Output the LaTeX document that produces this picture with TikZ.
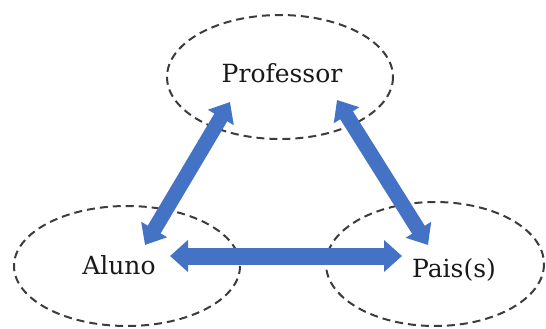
\documentclass[tikz,border=0pt]{standalone}
\usepackage{fontspec}
\setmainfont{DejaVu Serif}
\usetikzlibrary{arrows.meta}
\definecolor{linkblue}{RGB}{68,114,196}
\definecolor{rimgray}{RGB}{60,60,60}
\begin{document}
\begin{tikzpicture}[x=1pt,y=-1pt,
  party/.style={draw=rimgray,dash pattern=on 8pt off 5pt,line width=2pt},
  label/.style={font=\fontsize{25}{28}\selectfont,text=black!90,anchor=base,inner sep=0pt},
  link/.style={draw=linkblue,line width=17pt,
    {Triangle[width=31pt,length=18pt]}-{Triangle[width=31pt,length=18pt]}},
  slant/.style={draw=linkblue,line width=15pt,
    {Triangle[width=29pt,length=18pt]}-{Triangle[width=29pt,length=18pt]}}]
\useasboundingbox (0,0) rectangle (546,329);
% three parties
\draw[party] (280,77) ellipse [x radius=113,y radius=62];
\draw[party] (127,266) ellipse [x radius=113,y radius=60];
\draw[party] (435,264) ellipse [x radius=109,y radius=62];
\node[label] (prof) at (282,82) {Professor};
\node[label] (aluno) at (119,274) {Aluno};
\node[label] (pais) at (454,277) {Pais(s)};
% arrow ends
\coordinate (profL) at (230,102);
\coordinate (profR) at (337,100);
\coordinate (alunoT) at (145,245);
\coordinate (alunoR) at (170,256);
\coordinate (paisT) at (428,245);
\coordinate (paisL) at (402,256);
% relations
\draw[slant] (alunoT) -- (profL);
\draw[slant] (paisT) -- (profR);
\draw[link] (alunoR) -- (paisL);
\end{tikzpicture}
\end{document}
